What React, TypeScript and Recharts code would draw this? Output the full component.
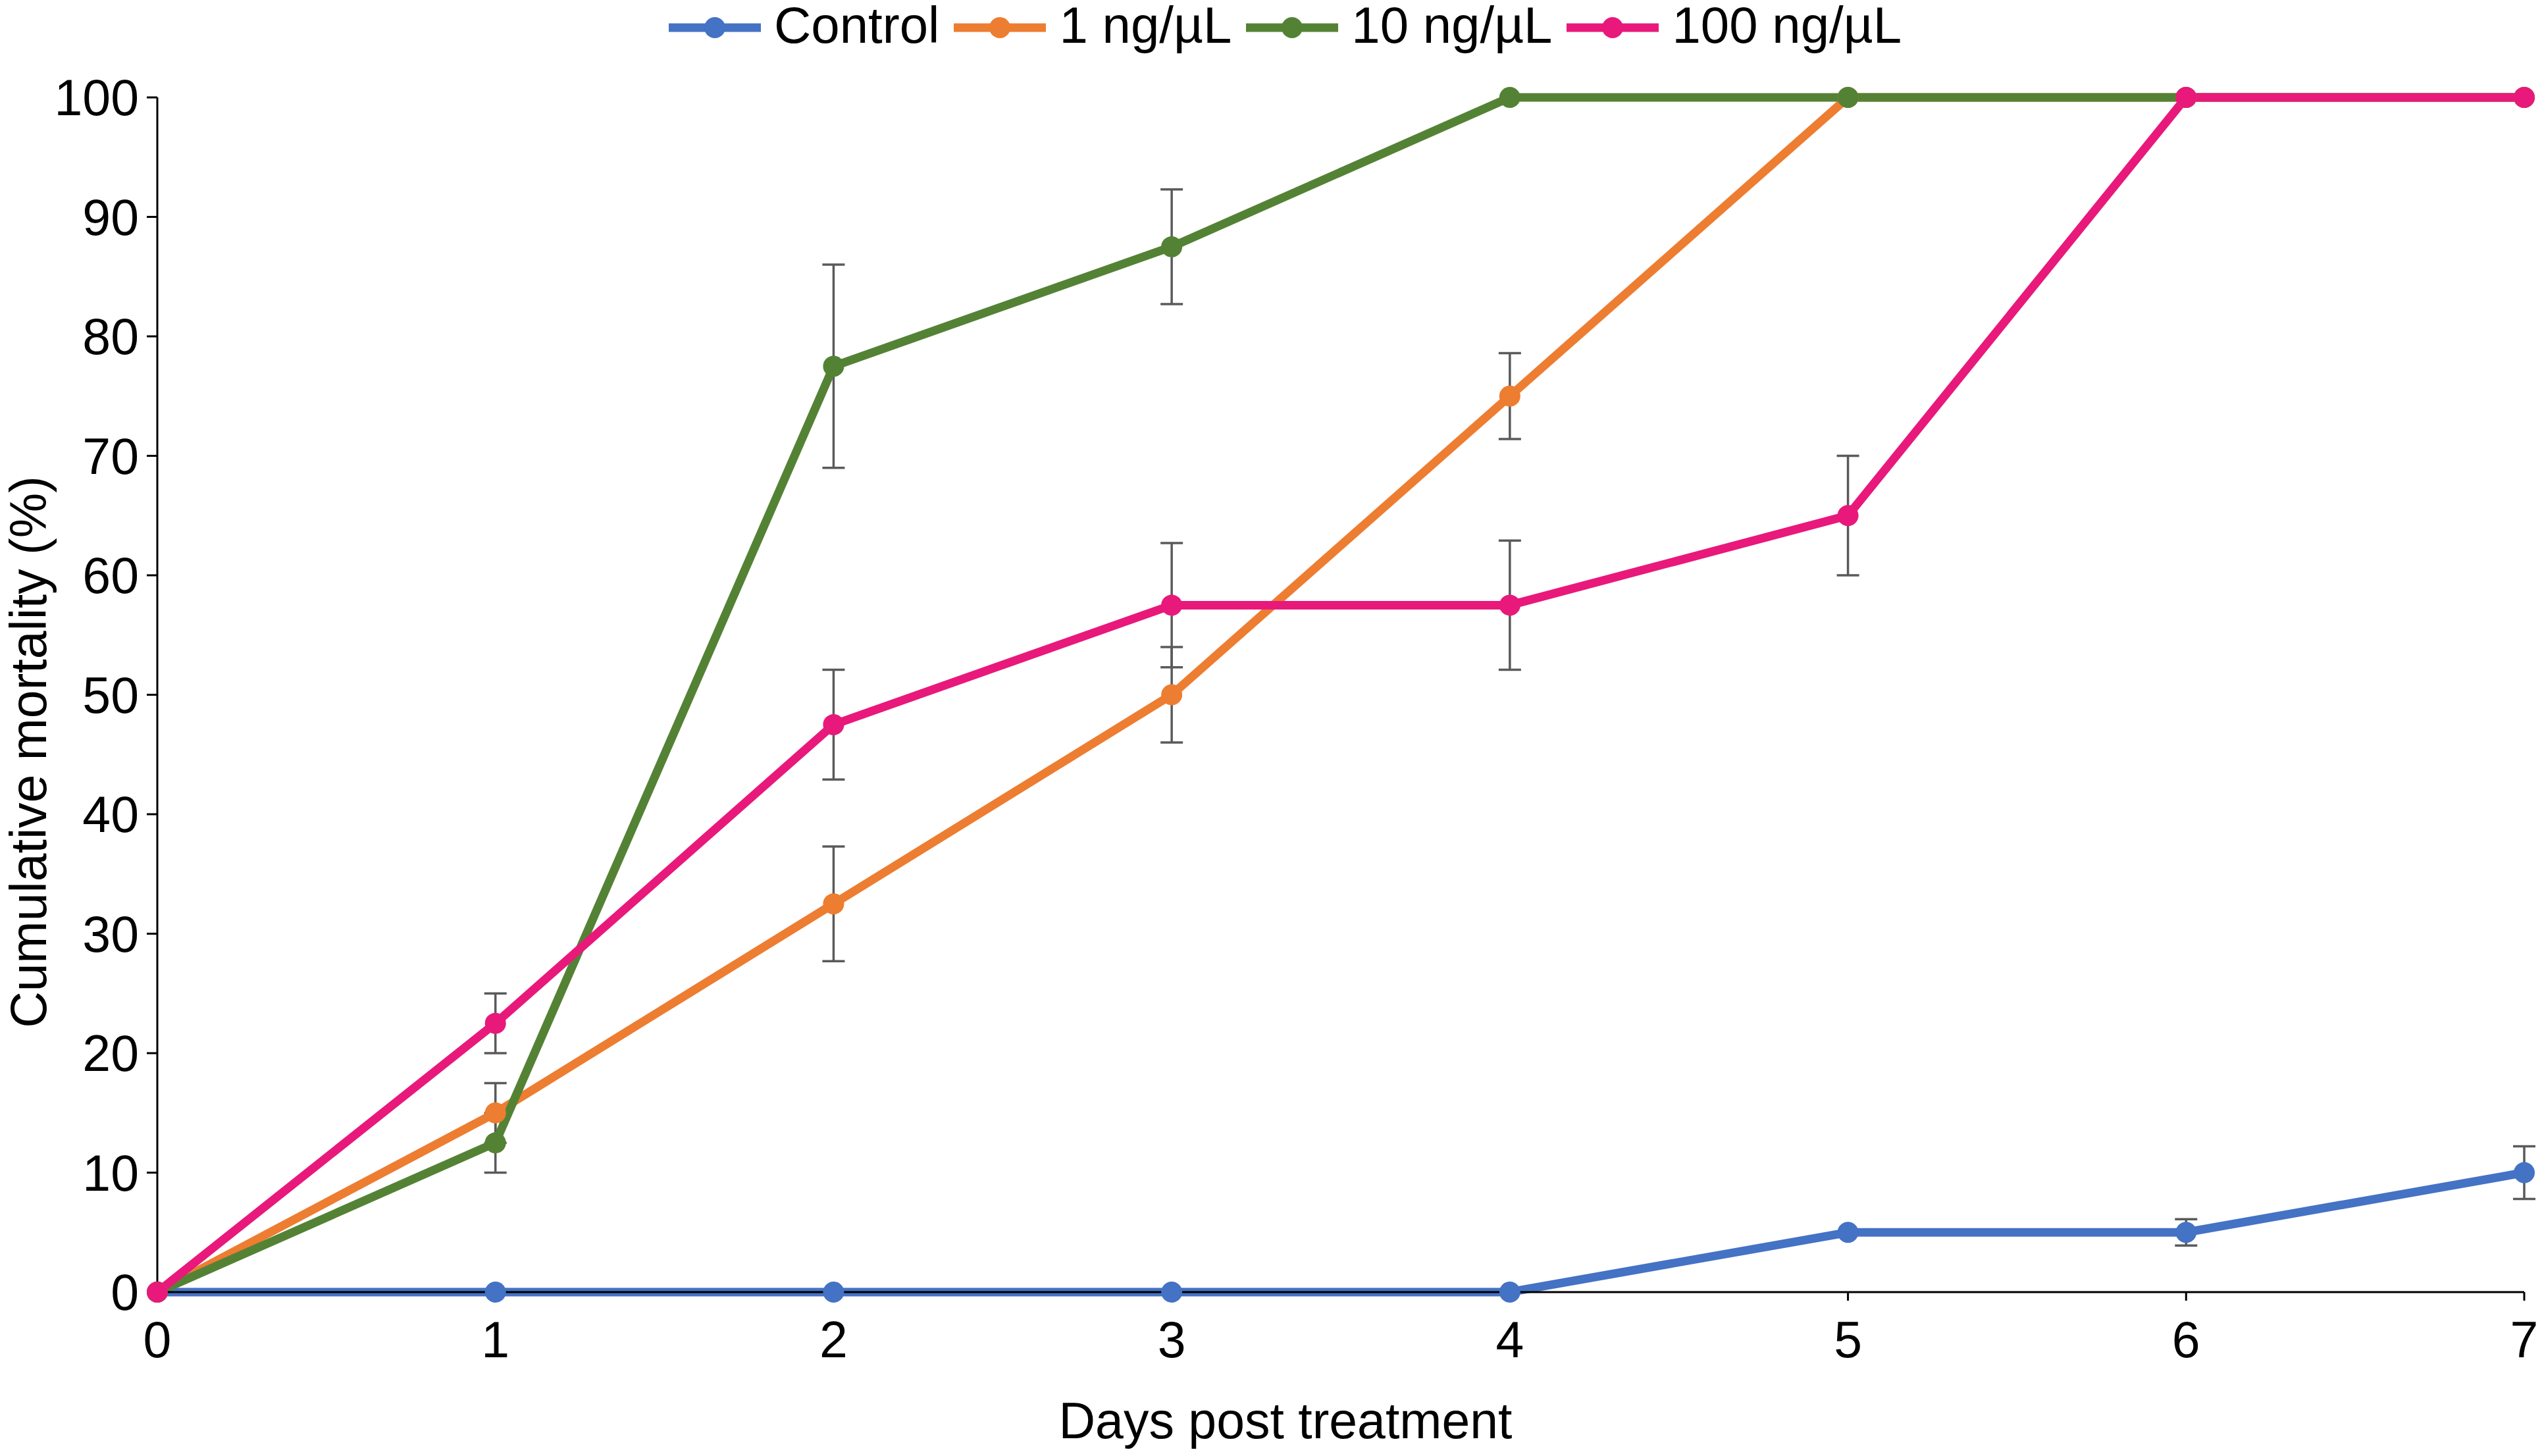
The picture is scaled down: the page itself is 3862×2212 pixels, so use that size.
import React from "react"
import { LineChart, Line, XAxis, YAxis, ErrorBar } from "recharts"

const DAYS = [0, 1, 2, 3, 4, 5, 6, 7]
const CONTROL = [0, 0, 0, 0, 0, 5, 5, 10]
const CONTROL_ERR = [null, null, null, null, null, null, 1.1, 2.2]
const LOW_DOSE = [0, 15, 32.5, 50, 75, 100, 100, 100]
const LOW_DOSE_ERR = [null, 2.5, 4.8, 4, 3.6, null, null, null]
const MID_DOSE = [0, 12.5, 77.5, 87.5, 100, 100, 100, 100]
const MID_DOSE_ERR = [null, 2.5, 8.5, 4.8, null, null, null, null]
const HIGH_DOSE = [0, 22.5, 47.5, 57.5, 57.5, 65, 100, 100]
const HIGH_DOSE_ERR = [null, 2.5, 4.6, 5.2, 5.4, 5, null, null]
const Y_TICKS = [0, 10, 20, 30, 40, 50, 60, 70, 80, 90, 100]

const SERIES = [
  { key: "control", name: "Control", color: "#4472C4" },
  { key: "low", name: "1 ng/µL", color: "#ED7D31" },
  { key: "mid", name: "10 ng/µL", color: "#548235" },
  { key: "high", name: "100 ng/µL", color: "#E8197B" },
]

const data = DAYS.map((day, i) => ({
  day,
  control: CONTROL[i],
  controlErr: CONTROL_ERR[i],
  low: LOW_DOSE[i],
  lowErr: LOW_DOSE_ERR[i],
  mid: MID_DOSE[i],
  midErr: MID_DOSE_ERR[i],
  high: HIGH_DOSE[i],
  highErr: HIGH_DOSE_ERR[i],
}))

const FONT = '"Liberation Sans", Arial, sans-serif'

function TopLegend() {
  return (
    <div
      style={{
        position: "absolute",
        left: 1012,
        top: 0,
        height: 76,
        display: "flex",
        alignItems: "center",
        fontFamily: FONT,
        fontSize: 78,
        lineHeight: "76px",
        color: "#000",
        whiteSpace: "nowrap",
      }}
    >
      {SERIES.map((s) => (
        <div key={s.key} style={{ display: "flex", alignItems: "center", marginRight: 18 }}>
          <svg width={148} height={40} style={{ marginRight: 16, marginTop: 8 }}>
            <line x1={4} y1={20} x2={144} y2={20} stroke={s.color} strokeWidth={13} />
            <circle cx={74} cy={20} r={16} fill={s.color} />
          </svg>
          <span>{s.name}</span>
        </div>
      ))}
    </div>
  )
}

export default function App() {
  return (
    <div style={{ position: "absolute", left: 0, top: 0, width: 3862, height: 2212, background: "#fff", fontFamily: FONT }}>
      <LineChart width={3862} height={2212} data={data} margin={{ top: 148, right: 27, bottom: 0, left: 0 }}>
        <XAxis
          dataKey="day"
          type="number"
          domain={[0, 7]}
          ticks={DAYS}
          interval={0}
          height={249}
          tickSize={13}
          tickMargin={31}
          axisLine={{ stroke: "#000", strokeWidth: 3 }}
          tickLine={{ stroke: "#000", strokeWidth: 3 }}
          tick={{ fill: "#000", fontSize: 77 }}
          label={{ value: "Days post treatment", position: "insideBottom", offset: 27, dx: -84, fontSize: 77, fill: "#000" }}
        />
        <YAxis
          type="number"
          domain={[0, 100]}
          ticks={Y_TICKS}
          interval={0}
          width={239}
          tickSize={16}
          tickMargin={12}
          axisLine={{ stroke: "#000", strokeWidth: 3 }}
          tickLine={{ stroke: "#000", strokeWidth: 3 }}
          tick={{ fill: "#000", fontSize: 77 }}
          label={{
            value: "Cumulative mortality (%)",
            angle: -90,
            position: "insideLeft",
            offset: 43,
            dy: 87,
            fontSize: 77,
            fill: "#000",
            style: { textAnchor: "middle" },
          }}
        />
        {SERIES.map((s) => (
          <Line
            key={s.key}
            type="linear"
            dataKey={s.key}
            name={s.name}
            stroke={s.color}
            strokeWidth={13}
            dot={{ r: 16, fill: s.color, stroke: s.color, strokeWidth: 0 }}
            activeDot={false}
            isAnimationActive={false}
          >
            <ErrorBar dataKey={`${s.key}Err`} direction="y" width={17} stroke="#5A5A5A" strokeWidth={3.5} />
          </Line>
        ))}
      </LineChart>
      <TopLegend />
    </div>
  )
}
